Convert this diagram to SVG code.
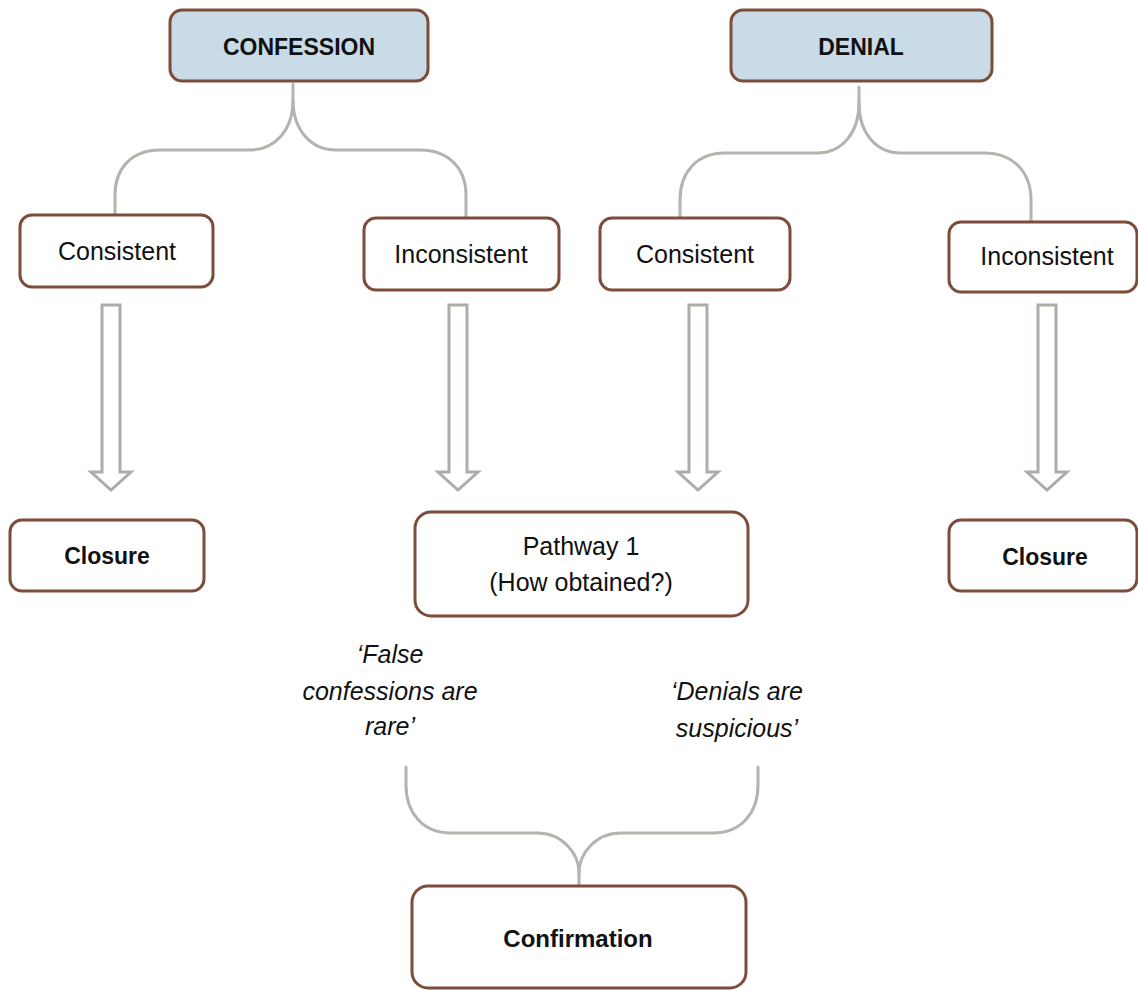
<svg xmlns="http://www.w3.org/2000/svg" width="1138" height="990" viewBox="0 0 1138 990">
<style>
.box{fill:#ffffff;stroke:#7d4d3c;stroke-width:3}
.head{fill:#c9dbe6;stroke:#7d4d3c;stroke-width:3}
.t{font-family:"Liberation Sans",Arial,sans-serif;font-size:25px;fill:#111;text-anchor:middle}
.b{font-family:"Liberation Sans",Arial,sans-serif;font-size:23px;font-weight:bold;fill:#111;text-anchor:middle}
.i{font-family:"Liberation Sans",Arial,sans-serif;font-size:25px;font-style:italic;fill:#111;text-anchor:middle}
.brace{fill:none;stroke:#b1b5ad;stroke-width:3;stroke-linecap:round}
.arrow{fill:#ffffff;stroke:#a9aea6;stroke-width:3;stroke-linejoin:miter}
</style>
<rect width="1138" height="990" fill="#ffffff"/>
<g id="connectors">
<path class="brace" d="M115,214 L115,195 C115,168 132,150 160,150 L250,150 C275,150 293,130 293,100 L293,84"/>
<path class="brace" d="M293,100 C293,130 311,150 336,150 L420,150 C448,150 466,168 466,195 L466,217"/>
<path class="brace" d="M680,218 L680,200 C680,172 697,153 725,153 L817,153 C842,153 859,133 859,103 L859,87"/>
<path class="brace" d="M859,103 C859,133 876,153 901,153 L985,153 C1013,153 1031,172 1031,200 L1031,221"/>
<path class="brace" d="M406,767 L406,785 C406,813 423,833 451,833 L537,833 C562,833 579,853 579,873 L579,885"/>
<path class="brace" d="M758,767 L758,785 C758,813 741,833 713,833 L621,833 C596,833 579,853 579,873"/>
<polygon class="arrow" points="102,305 120,305 120,472 131,472 111,490 91,472 102,472"/>
<polygon class="arrow" points="449,305 467,305 467,472 478,472 458,490 438,472 449,472"/>
<polygon class="arrow" points="689,305 707,305 707,472 718,472 698,490 678,472 689,472"/>
<polygon class="arrow" points="1038,305 1056,305 1056,472 1067,472 1047,490 1027,472 1038,472"/>
</g>
<g id="confession"><rect class="head" x="170" y="10" width="258" height="71" rx="12"/><text class="b" x="299" y="55">CONFESSION</text></g>
<g id="denial"><rect class="head" x="731" y="10" width="261" height="71" rx="12"/><text class="b" x="861" y="55">DENIAL</text></g>
<g id="consistent-left"><rect class="box" x="20" y="215" width="193" height="72" rx="12"/><text class="t" x="117" y="260">Consistent</text></g>
<g id="inconsistent-left"><rect class="box" x="364" y="218" width="195" height="72" rx="12"/><text class="t" x="461" y="263">Inconsistent</text></g>
<g id="consistent-right"><rect class="box" x="600" y="218" width="190" height="72" rx="12"/><text class="t" x="695" y="263">Consistent</text></g>
<g id="inconsistent-right"><rect class="box" x="949" y="222" width="188" height="70" rx="12"/><text class="t" x="1047" y="265">Inconsistent</text></g>
<g id="closure-left"><rect class="box" x="10" y="520" width="194" height="71" rx="12"/><text class="b" x="107" y="564">Closure</text></g>
<g id="pathway"><rect class="box" x="415" y="512" width="333" height="104" rx="16"/><text class="t" x="581" y="555">Pathway 1</text><text class="t" x="581" y="591">(How obtained?)</text></g>
<g id="closure-right"><rect class="box" x="949" y="520" width="188" height="71" rx="12"/><text class="b" x="1045" y="565">Closure</text></g>
<g id="label-false"><text class="i" x="390" y="663">‘False</text><text class="i" x="390" y="700">confessions are</text><text class="i" x="390" y="735">rare’</text></g>
<g id="label-denials"><text class="i" x="737" y="700">‘Denials are</text><text class="i" x="737" y="737">suspicious’</text></g>
<g id="confirmation"><rect class="box" x="412" y="886" width="334" height="102" rx="16"/><text class="b" x="578" y="947" style="font-size:24px">Confirmation</text></g>
</svg>
